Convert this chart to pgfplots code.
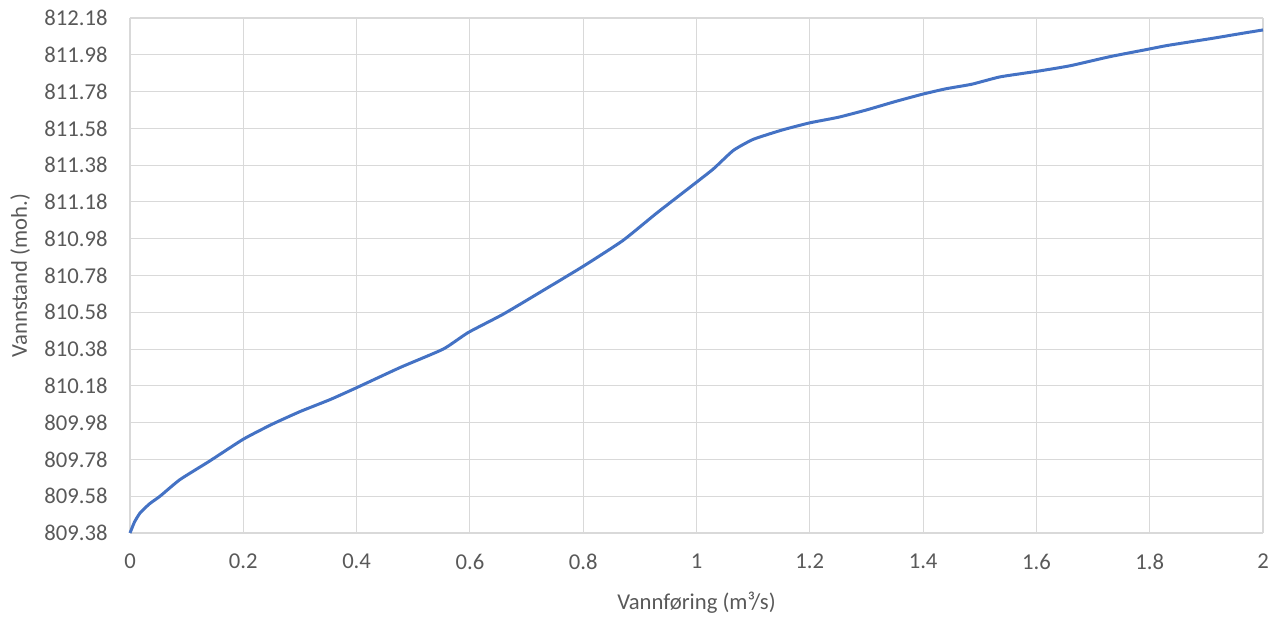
\documentclass[border=0pt]{standalone}
\usepackage{fontspec}
\setmainfont{Carlito}
\usepackage{pgfplots}
\pgfplotsset{compat=1.18}
\definecolor{txt}{HTML}{595959}
\definecolor{gridc}{HTML}{D9D9D9}
\definecolor{line}{HTML}{4472C4}
\begin{document}
\fontsize{17pt}{20pt}\selectfont
\begin{tikzpicture}
\path[use as bounding box] (-97.5pt,-63pt) rectangle (866.25pt,399.75pt);
\begin{axis}[
  scale only axis,
  width=849.75pt, height=386.25pt,
  xmin=0, xmax=2, ymin=809.38, ymax=812.18,
  xtick={0,0.2,...,2.01},
  ytick={809.38,809.58,809.78,809.98,810.18,810.38,810.58,810.78,810.98,811.18,811.38,811.58,811.78,811.98,812.18},
  yticklabels={809.38,809.58,809.78,809.98,810.18,810.38,810.58,810.78,810.98,811.18,811.38,811.58,811.78,811.98,812.18},
  xticklabels={0,0.2,0.4,0.6,0.8,1,1.2,1.4,1.6,1.8,2},
  grid=major,
  major grid style={gridc, line width=0.8pt},
  axis line style={draw=none},
  axis x line*=bottom,
  tick style={draw=none},
  /pgf/number format/assume math mode=true,
  tick label style={font=\fontsize{17pt}{20pt}\selectfont, text=txt},
  yticklabel style={xshift=-11pt},
  xticklabel style={yshift=-10pt},
  xlabel={Vannføring (m³/s)},
  ylabel={Vannstand (moh.)},
  label style={font=\fontsize{17pt}{20pt}\selectfont, text=txt},
  xlabel style={at={(axis description cs:0.5,-0.135)}, anchor=center},
  ylabel style={at={(axis description cs:-0.097,0.5)}, anchor=center},
  clip=false,
]
\addplot[line, line width=2.25pt, smooth, tension=0.3] coordinates {
(0,809.38) (0.008,809.44) (0.018,809.49) (0.035,809.54) (0.053,809.58) (0.088,809.67)
(0.14,809.77) (0.2,809.89) (0.25,809.97) (0.3,810.04) (0.353,810.105) (0.4,810.17)
(0.477,810.28) (0.553,810.38) (0.597,810.47) (0.659,810.57) (0.73,810.70) (0.8,810.83)
(0.87,810.97) (0.93,811.12) (0.997,811.28) (1.03,811.36) (1.065,811.46) (1.1,811.52)
(1.15,811.57) (1.2,811.61) (1.25,811.64) (1.3,811.68) (1.35,811.725) (1.398,811.765)
(1.44,811.795) (1.486,811.82) (1.536,811.86) (1.601,811.89) (1.659,811.92) (1.73,811.97) (1.797,812.01)
(1.83,812.03) (1.912,812.07) (1.96,812.095) (2.0,812.115)
};
\end{axis}
\end{tikzpicture}
\end{document}
